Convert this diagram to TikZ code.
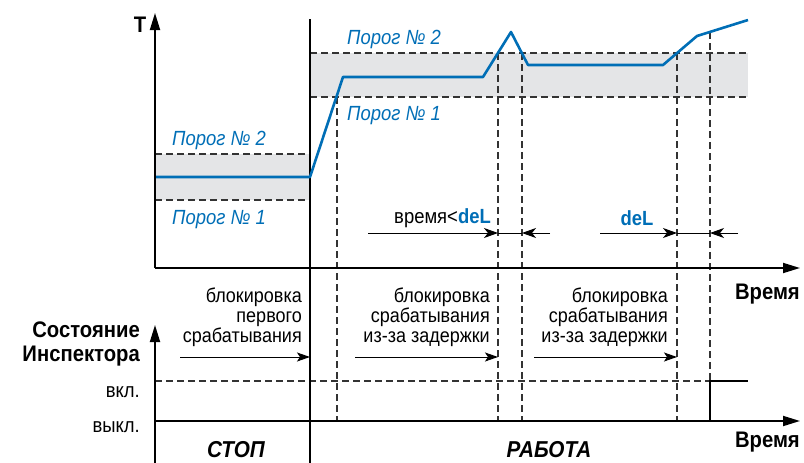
\documentclass[tikz,border=0pt]{standalone}
\usepackage{fontspec}
\setmainfont{Liberation Sans}[FakeStretch=0.9]
\usetikzlibrary{arrows.meta,positioning}
\definecolor{owenblue}{RGB}{0,110,182}
\definecolor{bandgray}{RGB}{228,229,231}
\tikzset{
  axisline/.style={line width=1.8pt, -{Triangle[length=17pt,width=10pt]}},
  bluecurve/.style={draw=owenblue, line width=2.6pt, line join=round},
  limitline/.style={draw=black!80, line width=1.1pt, dash pattern=on 7pt off 4pt},
  band/.style={fill=bandgray, draw=none},
  dimarrow/.style={line width=1pt, -{Stealth[length=14pt,width=10pt,inset=4pt]}},
  blockarrow/.style={line width=1pt, -{Stealth[length=13pt,width=9pt,inset=3pt]}},
  porog/.style={text=owenblue, font=\fontsize{20.5}{22}\selectfont\itshape, inner sep=0pt, anchor=base west},
  blocktext/.style={align=right, font=\fontsize{20}{20}\selectfont, inner sep=0pt, anchor=south east},
  axislabel/.style={font=\fontsize{22.5}{24}\selectfont\bfseries, inner sep=0pt},
  statelabel/.style={font=\fontsize{20.5}{20}\selectfont, inner sep=0pt, anchor=base east},
  modelabel/.style={font=\fontsize{23}{24}\selectfont\bfseries\itshape, inner sep=0pt, anchor=base},
  stateline/.style={line width=2.6pt, line join=miter}
}

\begin{document}
\begin{tikzpicture}[x=1pt, y=-1pt]
  \useasboundingbox (0,0) rectangle (804,463);

  % threshold bands
  \fill[band] (155,154) rectangle (310,200);
  \fill[band] (310,53) rectangle (748,97);
  \draw[limitline] (155,154) -- (310,154);
  \draw[limitline] (155,200) -- (310,200);
  \draw[limitline] (310,53) -- (748,53);
  \draw[limitline] (310,97) -- (748,97);

  % temperature curve
  \coordinate (c0) at (155,177);
  \coordinate (c1) at (310,177);
  \coordinate (c2) at (343,77);
  \coordinate (c3) at (483,77);
  \coordinate (c4) at (511,32);
  \coordinate (c5) at (528,65);
  \coordinate (c6) at (663,65);
  \coordinate (c7) at (697,36);
  \coordinate (c8) at (748,20);

  % crossing marks
  \coordinate (xa) at (337,97);
  \coordinate (xb) at (498,53);
  \coordinate (xc) at (522,53);
  \coordinate (xd) at (677,53);
  \coordinate (xe) at (710,32);
  \draw[limitline] (xa) -- (337,421);
  \draw[limitline] (xb) -- (498,421);
  \draw[limitline] (xc) -- (522,421);
  \draw[limitline] (xd) -- (677,421);
  \draw[limitline] (xe) -- (710,381);
  \draw[limitline] (155,381) -- (710,381);

  % start line
  \draw[line width=1.3pt] (310,19) -- (310,463);

  \draw[bluecurve] (c0) -- (c1) -- (c2) -- (c3) -- (c4) -- (c5) -- (c6) -- (c7) -- (c8);

  % axes
  \coordinate (o1) at (155,268);
  \coordinate (o2) at (155,421);
  \draw[axisline] (o1) -- (800,268);
  \draw[axisline] (o1) -- (155,13);
  \draw[axisline] (o2) -- (800,421);
  \draw[axisline] (155,463) -- (155,325);
  \draw[stateline] (o2) -- (710,421) -- (710,381) -- (748,381);

  \node[axislabel, anchor=base] (tlab) at (140,32) {T};
  \node[axislabel, anchor=base east] (time1) at (800,299) {Время};
  \node[axislabel, anchor=base east] (time2) at (800,447) {Время};
  \node[axislabel, align=right, anchor=south east] (state) at (140,366) {Состояние\\Инспектора};
  \node[statelabel] (on) at (140,397) {вкл.};
  \node[statelabel] (off) at (140,432) {выкл.};

  \node[porog] (p2a) at (172,145) {Порог № 2};
  \node[porog] (p1a) at (172,224) {Порог № 1};
  \node[porog] (p2b) at (347,44) {Порог № 2};
  \node[porog] (p1b) at (347,120) {Порог № 1};

  % delay measures
  \draw[dimarrow] (368,233) -- (xb |- 0,233);
  \draw[line width=1pt] (498,233) -- (522,233);
  \draw[dimarrow] (550,233) -- (xc |- 0,233);
  \node[statelabel] (lt) at (491,223) {время<\textcolor{owenblue}{\bfseries deL}};
  \draw[dimarrow] (600,233) -- (xd |- 0,233);
  \draw[line width=1pt] (677,233) -- (710,233);
  \draw[dimarrow] (738,233) -- (xe |- 0,233);
  \node[statelabel, anchor=base, text=owenblue, font=\fontsize{20.5}{20}\selectfont\bfseries] (del) at (637,225) {deL};

  % blocking intervals
  \node[blocktext] (blk1) at (302,347) {блокировка\\первого\\срабатывания};
  \draw[blockarrow] (180,357) -- (310,357);
  \node[blocktext] (blk2) at (490,347) {блокировка\\срабатывания\\из-за задержки};
  \draw[blockarrow] (355,357) -- (498,357);
  \node[blocktext] (blk3) at (668,347) {блокировка\\срабатывания\\из-за задержки};
  \draw[blockarrow] (534,357) -- (677,357);

  \node[modelabel] (stop) at (236,457) {СТОП};
  \node[modelabel] (run) at (549,457) {РАБОТА};
\end{tikzpicture}
\end{document}
